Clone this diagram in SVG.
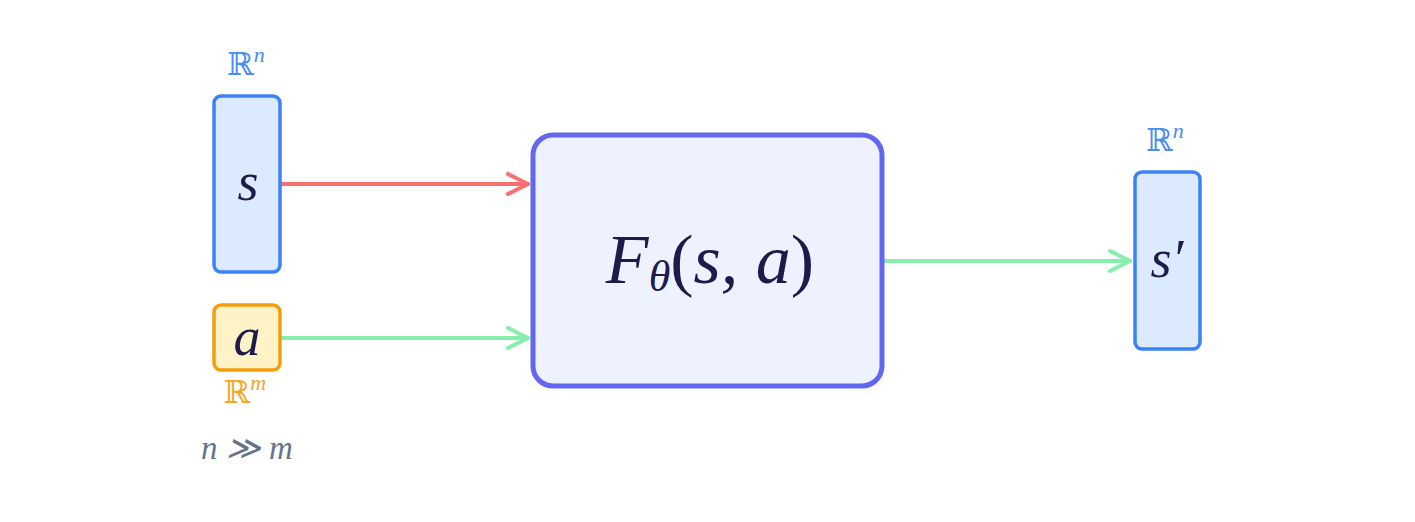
<svg xmlns="http://www.w3.org/2000/svg" width="1415" height="522" viewBox="0 0 1415 522">
<style>
.math{font-family:"Liberation Serif","DejaVu Serif",serif;font-style:italic;fill:#1e1b4b;text-anchor:middle}
.bb{font-family:"DejaVu Serif","DejaVu Sans",serif;text-anchor:middle}
.sup{font-family:"Liberation Serif","DejaVu Serif",serif;font-style:italic}
.vec{fill:#dbeafe;stroke:#3b82f6;stroke-width:3.5}
.conn{fill:none;stroke-width:4;stroke-linecap:round}
</style>
<defs>
<marker id="ahR" viewBox="0 0 12 12" refX="11" refY="6" markerWidth="6" markerHeight="6" orient="auto" markerUnits="strokeWidth">
<path d="M1,1 L11,6 L1,11" fill="none" stroke="#f87171" stroke-width="2" stroke-linecap="round" stroke-linejoin="round"/>
</marker>
<marker id="ahG" viewBox="0 0 12 12" refX="11" refY="6" markerWidth="6" markerHeight="6" orient="auto" markerUnits="strokeWidth">
<path d="M1,1 L11,6 L1,11" fill="none" stroke="#86efac" stroke-width="2" stroke-linecap="round" stroke-linejoin="round"/>
</marker>
</defs>
<rect width="1415" height="522" fill="#ffffff"/>
<g id="connectors">
<line class="conn" x1="282" y1="184" x2="528" y2="184" stroke="#f87171" marker-end="url(#ahR)"/>
<line class="conn" x1="282" y1="338" x2="528" y2="338" stroke="#86efac" marker-end="url(#ahG)"/>
<line class="conn" x1="884" y1="261" x2="1130" y2="261" stroke="#86efac" marker-end="url(#ahG)"/>
</g>
<g id="node-s">
<rect class="vec" x="214" y="96" width="66" height="176" rx="7"/>
<text class="math" x="248" y="200" font-size="54">s</text>
<text class="bb" x="246" y="75" font-size="32" fill="#4a8ef0">ℝ<tspan class="sup" font-size="22" dy="-13">n</tspan></text>
</g>
<g id="node-a">
<rect x="214" y="305" width="66" height="65" rx="7" fill="#fef3c7" stroke="#f59e0b" stroke-width="3.5"/>
<text class="math" x="247" y="355" font-size="54">a</text>
<text class="bb" x="245" y="403" font-size="32" fill="#f5a623">ℝ<tspan class="sup" font-size="22" dy="-13">m</tspan></text>
</g>
<g id="note">
<text class="math" x="247" y="459" font-size="33" style="fill:#64748b">n ≫ m</text>
</g>
<g id="node-F">
<rect x="533" y="135" width="349" height="251" rx="20" fill="#eef2ff" stroke="#6366f1" stroke-width="5"/>
<text class="math" x="710" y="283" font-size="70">F<tspan font-size="44" dy="8">θ</tspan><tspan font-style="normal" dy="-8">(</tspan>s, a<tspan font-style="normal">)</tspan></text>
</g>
<g id="node-s2">
<rect class="vec" x="1135" y="172" width="65" height="177" rx="7"/>
<text class="math" x="1167" y="277" font-size="54">s′</text>
<text class="bb" x="1165" y="151" font-size="32" fill="#4a8ef0">ℝ<tspan class="sup" font-size="22" dy="-13">n</tspan></text>
</g>
</svg>
